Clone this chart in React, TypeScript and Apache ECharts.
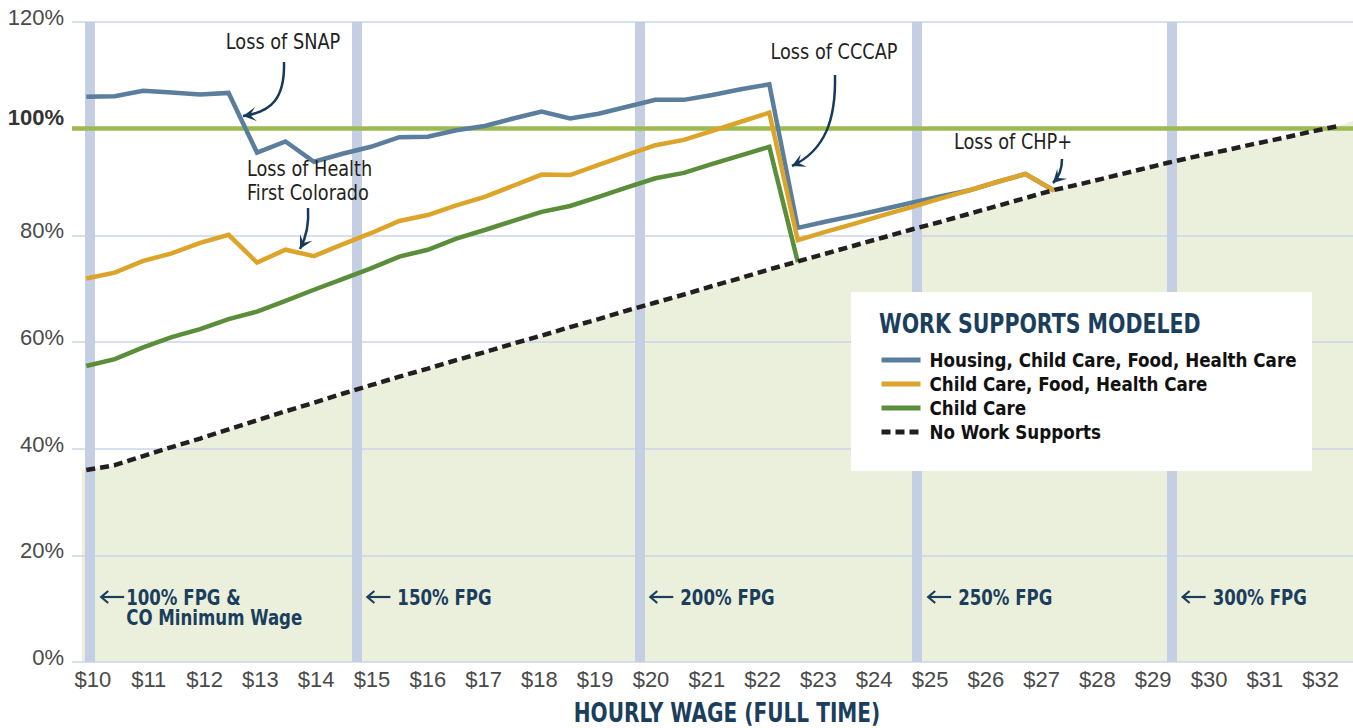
import React, { useEffect, useRef } from "react";
import * as echarts from "echarts";

// Hourly wage (full time) at each modeled point
const wages = [
  9.88, 10.39, 10.9, 11.41, 11.92, 12.43, 12.94, 13.45, 13.96, 14.47, 14.98, 15.49, 16.0, 16.51, 17.02,
  17.53, 18.04, 18.55, 19.06, 19.57, 20.08, 20.59, 21.1, 21.61, 22.12, 22.63, 23.14, 23.65, 24.16, 24.67,
  25.18, 25.69, 26.2, 26.71, 27.22, 27.73, 28.24, 28.75, 29.26, 29.77, 30.28, 30.79, 31.3, 31.81, 32.32,
];

// % of self-sufficiency covered
const housingChildFoodHealth = [
  106.0, 106.1, 107.1, 106.8, 106.4, 106.7, 95.5, 97.6, 93.8, 95.3, 96.6, 98.4, 98.5, 99.7, 100.5, 101.9,
  103.2, 101.9, 102.8, 104.1, 105.4, 105.4, 106.3, 107.4, 108.3, 81.4, 82.6, 83.7, 84.9, 86.1, 87.3, 88.4,
  90.0, 91.5, 88.4,
];
const childFoodHealth = [
  71.9, 73.0, 75.2, 76.6, 78.6, 80.1, 74.9, 77.3, 76.1, 78.3, 80.4, 82.7, 83.8, 85.6, 87.2, 89.3, 91.4,
  91.3, 93.2, 95.1, 96.9, 97.9, 99.6, 101.3, 103.0, 79.1, 80.7, 82.2, 83.8, 85.3, 86.9, 88.4, 90.0, 91.5,
  88.4,
];
const childCare = [
  55.5, 56.8, 59.0, 60.9, 62.4, 64.3, 65.7, 67.7, 69.8, 71.8, 73.8, 76.0, 77.3, 79.4, 81.0, 82.7, 84.4,
  85.5, 87.2, 89.0, 90.7, 91.7, 93.4, 95.0, 96.6, 75.0,
];
const noSupports = [
  36.0, 36.9, 38.6, 40.3, 41.9, 43.6, 45.3, 47.0, 48.6, 50.3, 51.9, 53.5, 55.0, 56.6, 58.1, 59.7, 61.2,
  62.8, 64.3, 65.9, 67.4, 68.9, 70.5, 72.0, 73.6, 75.1, 76.6, 78.1, 79.6, 81.1, 82.5, 84.0, 85.5, 87.0,
  88.5, 89.7, 91.0, 92.3, 93.6, 94.8, 95.9, 97.1, 98.2, 99.4, 100.5,
];
// shaded region (below no-supports line) extends slightly past the line ends
const shadeStart = [9.8, 35.9];
const shadeEnd = [32.6, 101.5];

const seriesNames = [
  "Housing, Child Care, Food, Health Care",
  "Child Care, Food, Health Care",
  "Child Care",
  "No Work Supports",
];
const xTickValues = [10, 11, 12, 13, 14, 15, 16, 17, 18, 19, 20, 21, 22, 23, 24, 25, 26, 27, 28, 29, 30, 31, 32];
const fpgWages = [9.95, 14.72, 19.79, 24.77, 29.33];
const fpgLabels = ["100% FPG &\nCO Minimum Wage", "150% FPG", "200% FPG", "250% FPG", "300% FPG"];
const selfSufficiency = 100;

const COND = "'DejaVu Sans Condensed', 'Liberation Sans Narrow', sans-serif";
const SANS = "'Liberation Sans', Arial, sans-serif";
const NAVY = "#1b3e5c";
const ARROW = "#163a59";

const pairs = (vals: number[]) => vals.map((v, i) => [wages[i], v]);

function arrowHead(tx: number, ty: number, fx: number, fy: number, len = 13, half = 7) {
  const dx = tx - fx;
  const dy = ty - fy;
  const d = Math.hypot(dx, dy) || 1;
  const ux = dx / d;
  const uy = dy / d;
  const px = -uy;
  const py = ux;
  return {
    type: "polygon",
    z: 20,
    shape: {
      points: [
        [tx, ty],
        [tx - len * ux + half * px, ty - len * uy + half * py],
        [tx - len * 0.55 * ux, ty - len * 0.55 * uy],
        [tx - len * ux - half * px, ty - len * uy - half * py],
      ],
    },
    style: { fill: ARROW },
    silent: true,
  };
}

function curvedArrow(a: number[], c1: number[], c2: number[], b: number[]) {
  return [
    {
      type: "bezierCurve",
      z: 20,
      shape: { x1: a[0], y1: a[1], cpx1: c1[0], cpy1: c1[1], cpx2: c2[0], cpy2: c2[1], x2: b[0], y2: b[1] },
      style: { stroke: ARROW, lineWidth: 2.5, fill: "none" },
      silent: true,
    },
    arrowHead(b[0], b[1], c2[0], c2[1]),
  ];
}

function annText(x: number, y: number, text: string, align = "center", extra: any = {}) {
  return {
    type: "text",
    z: 20,
    x,
    y,
    scaleX: 0.895,
    style: {
      text,
      font: `22px ${COND}`,
      fill: "#231f20",
      textAlign: align,
      textVerticalAlign: "middle",
      ...extra,
    },
    silent: true,
  };
}

export default function App() {
  const ref = useRef<HTMLDivElement>(null);

  useEffect(() => {
    if (!ref.current) return;
    const chart = echarts.init(ref.current, null, { renderer: "svg" });

    const lineSeries = (name: string, vals: number[], color: string, z: number, extra: any = {}) => ({
      name,
      type: "line",
      data: pairs(vals),
      symbol: "none",
      z,
      lineStyle: { color, width: 4.5, join: "miter" },
      itemStyle: { color },
      silent: true,
      ...extra,
    });

    const option: any = {
      animation: false,
      backgroundColor: "#ffffff",
      grid: { left: 72, right: 0, top: 22, bottom: 66, containLabel: false },
      xAxis: {
        type: "value",
        min: 9.624,
        max: 32.58,
        z: 1,
        axisLine: { show: false },
        axisTick: { show: false },
        splitLine: { show: false },
        axisLabel: {
          customValues: xTickValues,
          formatter: (v: number) => `$${v}`,
          color: "#4a4a4a",
          fontFamily: SANS,
          fontSize: 22,
          margin: 6,
        },
      },
      yAxis: {
        type: "value",
        min: 0,
        max: 120,
        interval: 20,
        z: 1,
        axisLine: { show: false },
        axisTick: { show: false },
        splitLine: { show: true, lineStyle: { color: "#cbd5e8", width: 1.5 } },
        axisLabel: {
          margin: 8,
          verticalAlign: "bottom",
          formatter: (v: number) => (v === selfSufficiency ? `{b|${v}%}` : `{n|${v}%}`),
          rich: {
            n: { fontFamily: SANS, fontSize: 22, color: "#4a4a4a", lineHeight: 9 },
            b: { fontFamily: SANS, fontSize: 22, fontWeight: "bold", color: "#333333", lineHeight: 22 },
          },
        },
      },
      legend: {
        show: true,
        orient: "vertical",
        left: 879,
        top: 348,
        padding: 0,
        z: 12,
        itemWidth: 39,
        itemHeight: 2,
        itemGap: 0,
        data: seriesNames,
        selectedMode: false,
        lineStyle: { width: 5 },
        textStyle: {
          fontFamily: COND,
          fontWeight: "bold",
          fontSize: 18.6,
          color: "#111111",
          lineHeight: 24,
          padding: [0, 0, 0, 4],
        },
      },
      series: [
        {
          name: "shade",
          type: "line",
          data: [shadeStart, ...pairs(noSupports), shadeEnd],
          symbol: "none",
          z: 0,
          lineStyle: { width: 0, opacity: 0 },
          areaStyle: { color: "#ebf0dc", opacity: 1 },
          silent: true,
          markLine: {
            z: 2,
            silent: true,
            symbol: "none",
            label: { show: false },
            lineStyle: { color: "#c5cfe3", width: 10, type: "solid" },
            data: fpgWages.map((w) => ({ xAxis: w })),
          },
        },
        lineSeries(seriesNames[0], housingChildFoodHealth, "#5a7e9b", 4),
        lineSeries(seriesNames[1], childFoodHealth, "#dca42a", 5),
        lineSeries(seriesNames[2], childCare, "#5a8e3a", 6),
        lineSeries(seriesNames[3], noSupports, "#231f20", 7, {
          lineStyle: { color: "#231f20", width: 4.5, type: [9, 5] },
          markLine: {
            z: 3,
            silent: true,
            symbol: "none",
            label: { show: false },
            lineStyle: { color: "#9dba52", width: 4.5, type: "solid" },
            data: [{ yAxis: selfSufficiency }],
          },
        }),
      ],
    };
    chart.setOption(option);

    const graphics: any[] = [];
    // legend box
    graphics.push({
      type: "rect",
      z: 10,
      shape: { x: 851, y: 292, width: 461, height: 179 },
      style: { fill: "#ffffff" },
      silent: true,
    });
    graphics.push({
      type: "text",
      z: 11,
      x: 879,
      y: 324,
      scaleX: 0.845,
      style: {
        text: "WORK SUPPORTS MODELED",
        font: `bold 27px ${COND}`,
        fill: NAVY,
        textAlign: "left",
        textVerticalAlign: "middle",
      },
      silent: true,
    });

    // FPG band labels
    const labelY = 597;
    fpgWages.forEach((w, i) => {
      const p = chart.convertToPixel({ gridIndex: 0 }, [w, 10]) as number[];
      const ax = p[0] + 10;
      graphics.push({
        type: "line",
        z: 20,
        shape: { x1: ax + 2, y1: labelY, x2: ax + 24, y2: labelY },
        style: { stroke: NAVY, lineWidth: 2.2 },
        silent: true,
      });
      graphics.push({
        type: "polyline",
        z: 20,
        shape: { points: [[ax + 8, labelY - 6], [ax + 1, labelY], [ax + 8, labelY + 6]] },
        style: { stroke: NAVY, lineWidth: 2.2, fill: "none" },
        silent: true,
      });
      const tx = i === 0 ? ax + 26 : ax + 31;
      const multi = fpgLabels[i].includes("\n");
      graphics.push({
        type: "text",
        z: 20,
        x: tx,
        y: multi ? labelY - 10 : labelY,
        scaleX: 0.84,
        style: {
          text: fpgLabels[i],
          font: `bold 22px ${COND}`,
          fill: NAVY,
          lineHeight: 20,
          textAlign: "left",
          textVerticalAlign: multi ? "top" : "middle",
        },
        silent: true,
      });
    });

    // benefit cliff annotations
    graphics.push(annText(283, 42, "Loss of SNAP"));
    graphics.push(...curvedArrow([284, 62], [285, 98], [272, 112], [243, 116]));
    graphics.push(
      annText(247, 157, "Loss of Health\nFirst Colorado", "left", { textVerticalAlign: "top", lineHeight: 24 })
    );
    graphics.push(...curvedArrow([308, 208], [309, 222], [307, 236], [300, 249]));
    graphics.push(annText(834, 52, "Loss of CCCAP"));
    graphics.push(...curvedArrow([835, 75], [836, 118], [826, 150], [792, 166]));
    graphics.push(annText(1013, 142, "Loss of CHP+"));
    graphics.push(...curvedArrow([1062, 159], [1062, 168], [1060, 176], [1053, 183]));

    // axis title
    graphics.push({
      type: "text",
      z: 20,
      x: 727,
      y: 713,
      scaleX: 0.86,
      style: {
        text: "HOURLY WAGE (FULL TIME)",
        font: `bold 26px ${COND}`,
        fill: NAVY,
        textAlign: "center",
        textVerticalAlign: "middle",
      },
      silent: true,
    });

    chart.setOption({ graphic: { elements: graphics } });

    return () => chart.dispose();
  }, []);

  return (
    <div
      ref={ref}
      style={{ position: "absolute", left: 0, top: 0, width: 1353, height: 728, background: "#fff" }}
    />
  );
}
